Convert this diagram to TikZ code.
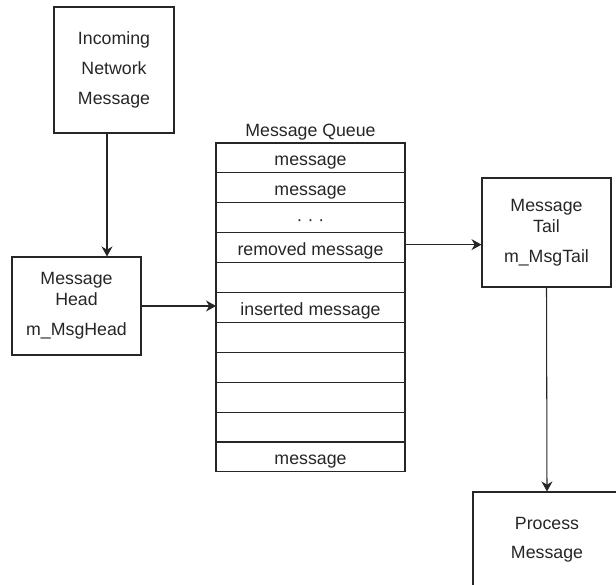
\documentclass[tikz,border=0pt]{standalone}
\usepackage{fontspec}
\setmainfont{Liberation Sans}
\usepackage{tikz}
\usetikzlibrary{arrows.meta,positioning}
\tikzset{
  box/.style={rectangle, draw=black!85, line width=0.6pt, align=center, text=black!85,
              font=\fontsize{10.1}{12}\selectfont, inner sep=2pt},
  slot/.style={rectangle, draw=black!85, line width=0.6pt, text=black!85,
               font=\fontsize{10.1}{12}\selectfont, minimum width=3.78cm,
               minimum height=5.98mm, text height=9pt, text depth=0pt,
               inner sep=0pt, outer sep=0pt},
  fl/.style={-{Stealth[length=2mm,width=2.2mm]}, line width=0.6pt, draw=black!85},
  lbl/.style={font=\fontsize{10.1}{12}\selectfont, text=black!85, inner sep=1pt},
}
\begin{document}
\begin{tikzpicture}
\path[use as bounding box, clip] (0,0) rectangle (12.32,11.7);
\node[box, minimum width=2.4cm, minimum height=2.52cm] (inc) at (2.28,10.3) {Incoming\\[5pt]Network\\[5pt]Message};
\node[box, minimum width=2.58cm, minimum height=1.96cm] (head) at (1.53,5.58) {Message\\Head\\[5pt]m\_MsgHead};
% queue slots, top to bottom
\foreach \i/\txt in {1/message,2/message,3/{· · ·},4/removed message,5/{},6/inserted message,7/{},8/{},9/{},10/{},11/message}
  \node[slot] (q\i) at (6.21,{8.84-0.598*(\i-0.5)}) {\txt};
\node[lbl, above=0.5pt of q1] (qname) {Message Queue};
\node[box, minimum width=2.58cm, minimum height=2.18cm] (tail) at (10.93,7.05) {Message\\Tail\\[5pt]m\_MsgTail};
\node[box, minimum width=2.96cm, minimum height=1.92cm] (proc) at (10.94,0.9) {Process\\[4.5pt]Message};
\draw[fl] ([xshift=-1.4mm]inc.south) -- ([xshift=-1.4mm]inc.south |- head.north);
\draw[fl] (head.east) -- (head.east -| q6.west);
\draw[fl] ([yshift=0.6mm]q4.east) -- ([yshift=0.6mm]q4.east -| tail.west);
\draw[fl] (tail.south) -- (proc.north);
\end{tikzpicture}
\end{document}
